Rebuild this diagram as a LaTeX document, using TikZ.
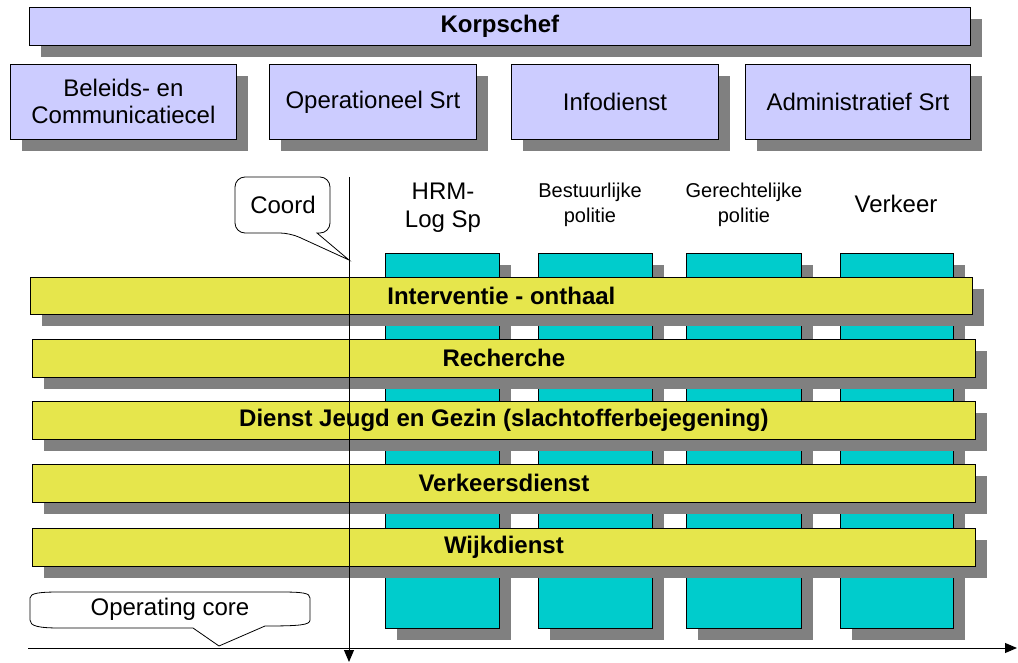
\documentclass[tikz,border=0pt]{standalone}
\usepackage{fontspec}
\setmainfont{Liberation Sans}
\usetikzlibrary{shadows,arrows.meta}
\definecolor{lav}{HTML}{CCCCFF}
\definecolor{cyanc}{HTML}{00CCCC}
\definecolor{yel}{HTML}{E6E64C}
\definecolor{shad}{HTML}{808080}
\begin{document}
\begin{tikzpicture}[x=1pt,y=-1pt,
 sh/.style={drop shadow={shadow xshift=12pt,shadow yshift=-12pt,fill=shad,opacity=1}},
 box/.style={draw=black,line width=0.8pt,anchor=north west,inner sep=0pt,align=center,font=\fontsize{24}{27}\selectfont,sh},
 lavbox/.style={box,fill=lav},
 colbox/.style={box,fill=cyanc},
 bar/.style={box,fill=yel,font=\fontsize{24}{27}\selectfont\bfseries},
 lbl/.style={align=center,inner sep=0pt,font=\fontsize{24}{28}\selectfont},
 slbl/.style={align=center,inner sep=0pt,font=\fontsize{20}{25}\selectfont},
 callout/.style={draw=black,line width=0.8pt,fill=white},
 axis/.style={draw=black,line width=1pt,-{Triangle[length=12pt,width=10pt]}}]
\useasboundingbox (0,0) rectangle (1018,663);

% top
\node[lavbox,font=\fontsize{24}{27}\selectfont\bfseries,minimum width=941pt,minimum height=38pt] (korps) at (29,7) {Korpschef};
\node[lavbox,minimum width=226pt,minimum height=75pt] (bel) at (10,64) {Beleids- en\\Communicatiecel};
\node[lavbox,minimum width=207pt,minimum height=75pt] (ops) at (269,64) {Operationeel Srt};
\node[lavbox,minimum width=207pt,minimum height=75pt] (info) at (511,64) {Infodienst};
\node[lavbox,minimum width=225pt,minimum height=75pt] (adm) at (745,64) {Administratief Srt};

% columns
\node[colbox,minimum width=114pt,minimum height=375pt] (c1) at (385,253) {};
\node[colbox,minimum width=114pt,minimum height=375pt] (c2) at (538,253) {};
\node[colbox,minimum width=115pt,minimum height=375pt] (c3) at (686,253) {};
\node[colbox,minimum width=113pt,minimum height=375pt] (c4) at (840,253) {};

% column labels
\node[lbl] (l1) at (443,208) {HRM-\\Log Sp};
\node[slbl] (l2) at (590,205) {Bestuurlijke\\politie};
\node[slbl] (l3) at (744,205) {Gerechtelijke\\politie};
\node[lbl] (l4) at (896,204) {Verkeer};

% bars
\node[bar,minimum width=942pt,minimum height=37pt] (b1) at (30,277) {Interventie - onthaal};
\node[bar,minimum width=943pt,minimum height=38pt] (b2) at (32,339) {Recherche};
\node[bar,minimum width=943pt,minimum height=38pt] (b3) at (32,401) {Dienst Jeugd en Gezin (slachtofferbejegening)};
\node[bar,minimum width=943pt,minimum height=38pt] (b4) at (32,464) {Verkeersdienst};
\node[bar,minimum width=943pt,minimum height=38pt] (b5) at (32,528) {Wijkdienst};

% axes
\coordinate (vtop) at (349,177);
\coordinate (vbot) at (349,662);
\coordinate (hl) at (28,648);
\coordinate (hr) at (1017,648);
\draw[axis] (vtop) -- (vbot);
\draw[axis] (hl) -- (hr);

% Coord callout
\coordinate (ctip) at (349,260);
\draw[callout] (ctip) -- (317,233) [rounded corners=10pt] -- (330,233) -- (330,177) -- (235,177) -- (235,233) -- (290,233) [sharp corners] -- cycle;
\node[lbl] (coord) at (283,205) {Coord};

% Operating core callout
\coordinate (otip) at (219,646);
\draw[callout] (30,598) .. controls (30,593) and (40,592) .. (60,592) -- (280,592) .. controls (303,592) and (310,593) .. (310,598) -- (310,620) .. controls (310,625) and (300,626) .. (265,626) -- (otip) -- (193,628) -- (60,628) .. controls (38,628) and (30,626) .. (30,620) -- cycle;
\node[lbl] (opc) at (170,609) {Operating core};
\end{tikzpicture}
\end{document}
